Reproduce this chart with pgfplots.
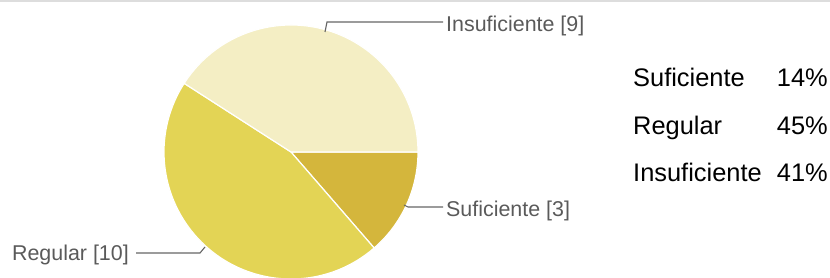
\documentclass[border=0pt]{standalone}
\usepackage{pgfplots}
\usepackage{pgfplotstable}
\pgfplotsset{compat=1.18}
\usepackage{fontspec}
\setmainfont{Liberation Sans}
\definecolor{cSuf}{HTML}{D4B63C}
\definecolor{cReg}{HTML}{E3D455}
\definecolor{cIns}{HTML}{F4EEC4}
\definecolor{lblgray}{HTML}{5A5A5A}
\definecolor{linegray}{HTML}{666666}
\definecolor{topgray}{HTML}{DDDDDD}

\pgfplotstableread{
label value pct
Suficiente 3 14
Regular 10 45
Insuficiente 9 41
}\piedata

\begin{document}%
\begin{tikzpicture}
\pgfplotstablegetelem{0}{value}\of\piedata \edef\vA{\pgfplotsretval}
\pgfplotstablegetelem{1}{value}\of\piedata \edef\vB{\pgfplotsretval}
\pgfplotstablegetelem{2}{value}\of\piedata \edef\vC{\pgfplotsretval}
\pgfmathsetmacro\tot{\vA+\vB+\vC}
\pgfmathsetmacro\aA{-360*\vA/\tot}
\pgfmathsetmacro\aB{\aA-360*\vB/\tot}
\pgfmathsetmacro\aC{\aB-360*\vC/\tot}
\def\cx{291}\def\cy{126}\def\R{127}
\path[use as bounding box] (0,0) rectangle (830bp,278bp);
\begin{axis}[
  at={(0,0)}, anchor=south west,
  scale only axis, width=830bp, height=278bp,
  xmin=0, xmax=830, ymin=0, ymax=278,
  hide axis, clip=true,
]
% top border
\draw[topgray, line width=1.5bp] (axis cs:0,277) -- (axis cs:830,277);
% pie slices
\fill[cSuf, draw=white, line width=1.2bp] (axis cs:\cx,\cy) -- (axis cs:{\cx+\R*cos(0)},{\cy+\R*sin(0)}) arc[start angle=0, end angle=\aA, radius=\R bp] -- cycle;
\fill[cReg, draw=white, line width=1.2bp] (axis cs:\cx,\cy) -- (axis cs:{\cx+\R*cos(\aA)},{\cy+\R*sin(\aA)}) arc[start angle=\aA, end angle=\aB, radius=\R bp] -- cycle;
\fill[cIns, draw=white, line width=1.2bp] (axis cs:\cx,\cy) -- (axis cs:{\cx+\R*cos(\aB)},{\cy+\R*sin(\aB)}) arc[start angle=\aB, end angle=\aC, radius=\R bp] -- cycle;
% leader lines
\draw[linegray, line width=1.1bp] (axis cs:325,246) -- (axis cs:327,256) -- (axis cs:443,256);
\draw[linegray, line width=1.1bp] (axis cs:404,73) -- (axis cs:408,71) -- (axis cs:443,71);
\draw[linegray, line width=1.1bp] (axis cs:205,31) -- (axis cs:200,25) -- (axis cs:136,25);
% slice labels
\node[anchor=base west, inner sep=0pt, text=lblgray, font=\fontsize{21.5}{21.5}\selectfont] at (axis cs:446,246) {Insuficiente [\vC]};
\node[anchor=base west, inner sep=0pt, text=lblgray, font=\fontsize{21.5}{21.5}\selectfont] at (axis cs:446,61) {Suficiente [\vA]};
\node[anchor=base east, inner sep=0pt, text=lblgray, font=\fontsize{21.5}{21.5}\selectfont] at (axis cs:129,18) {Regular [\vB]};
% right table
\node[anchor=base west, inner sep=0pt, font=\fontsize{25.5}{25.5}\selectfont] at (axis cs:633,191) {Suficiente};
\node[anchor=base east, inner sep=0pt, font=\fontsize{25.5}{25.5}\selectfont] at (axis cs:828,191) {14\%};
\node[anchor=base west, inner sep=0pt, font=\fontsize{25.5}{25.5}\selectfont] at (axis cs:633,143) {Regular};
\node[anchor=base east, inner sep=0pt, font=\fontsize{25.5}{25.5}\selectfont] at (axis cs:828,143) {45\%};
\node[anchor=base west, inner sep=0pt, font=\fontsize{25.5}{25.5}\selectfont] at (axis cs:633,96) {Insuficiente};
\node[anchor=base east, inner sep=0pt, font=\fontsize{25.5}{25.5}\selectfont] at (axis cs:828,96) {41\%};
\end{axis}
\end{tikzpicture}%
\end{document}
